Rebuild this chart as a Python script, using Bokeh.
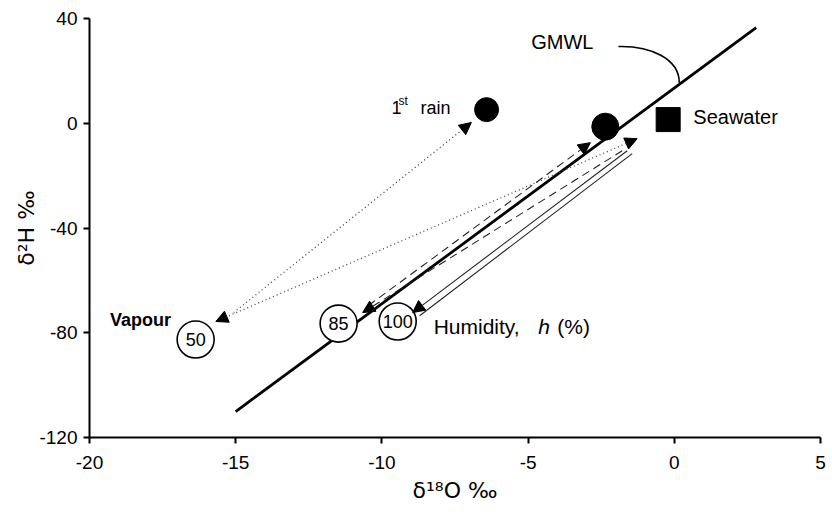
import math
from bokeh.plotting import figure
from bokeh.models import Range1d, FixedTicker, Arrow, NormalHead, Label, ColumnDataSource
from bokeh.embed import file_html
from bokeh.resources import INLINE
from bokeh.core.properties import value

FONT = "Liberation Sans"
TITLE_FONT = "DejaVu Sans"

# ---- axis ticks ----
x_ticks = [-20, -15, -10, -5, 0, 5]
x_tick_labels = ["-20", "-15", "-10", "-5", "0", "5"]
y_ticks = [-120, -80, -40, 0, 40]
y_tick_labels = ["-120", "-80", "-40", "0", "40"]
x_title = "δ¹⁸O ‰"
y_title = "δ²H ‰"

# ---- Global Meteoric Water Line ----
gmwl_x = [-15.0, 2.8]
gmwl_y = [-110.1, 36.5]

# ---- filled points ----
rain_x, rain_y = [-6.42], [5.2]          # 1st rain
resid_x, resid_y = [-2.36], [-1.3]       # residual water on GMWL
sea_x, sea_y = [-0.21], [1.4]            # seawater

# ---- humidity circles (vapour) ----
hum_labels = ["50", "85", "100"]
hum_x = [-16.37, -11.48, -9.46]
hum_y = [-82.6, -76.5, -75.7]

# ---- arrows ----
dotted_x0 = [-15.07, -1.27]
dotted_y0 = [-72.3, -5.9]
dotted_x1 = [-6.94, -15.68]
dotted_y1 = [0.3, -75.7]
dotted_start_head = [False, True]

dashed_x0 = [-10.46, -1.78]
dashed_y0 = [-69.6, -10.5]
dashed_x1 = [-2.87, -10.66]
dashed_y1 = [-7.4, -72.3]

solid_x0 = [-1.61, -1.44]
solid_y0 = [-10.5, -11.6]
solid_x1 = [-8.95, -8.71]
solid_y1 = [-72.3, -73.5]
solid_head = [True, False]

# GMWL leader curve
lead_x0, lead_y0 = [-1.91], [29.3]
lead_x1, lead_y1 = [0.17], [15.5]
lead_cx0, lead_cy0 = [-0.82], [29.6]
lead_cx1, lead_cy1 = [0.17], [24.7]

p = figure(width=828, height=515, output_backend="svg", toolbar_location=None,
           x_range=Range1d(-20, 5), y_range=Range1d(-120, 40),
           min_border_left=89, min_border_right=8, min_border_top=18, min_border_bottom=78)
p.outline_line_color = None
p.grid.visible = False
p.background_fill_color = "white"
p.border_fill_color = "white"

for ax, ticks, labels in ((p.xaxis[0], x_ticks, x_tick_labels), (p.yaxis[0], y_ticks, y_tick_labels)):
    ax.ticker = FixedTicker(ticks=ticks)
    ax.major_label_overrides = {t: l for t, l in zip(ticks, labels)}
    ax.axis_line_width = 2
    ax.axis_line_color = "black"
    ax.major_tick_line_width = 2
    ax.major_tick_line_color = "black"
    ax.major_tick_out = 6
    ax.major_tick_in = 0
    ax.minor_tick_line_color = None
    ax.major_label_text_font = FONT
    ax.major_label_text_font_size = "19px"
    ax.major_label_text_color = "black"
    ax.axis_label_text_font = TITLE_FONT
    ax.axis_label_text_font_size = "22px"
    ax.axis_label_text_font_style = "normal"
    ax.axis_label_text_color = "black"
p.xaxis.major_label_standoff = 12
p.yaxis.major_label_standoff = 6
p.xaxis.axis_label = x_title
p.yaxis.axis_label = y_title
p.xaxis.axis_label_standoff = 6
p.yaxis.axis_label_standoff = -3

# GMWL line
p.line(gmwl_x, gmwl_y, line_color="black", line_width=2.8)
p.bezier(x0=lead_x0, y0=lead_y0, x1=lead_x1, y1=lead_y1,
         cx0=lead_cx0, cy0=lead_cy0, cx1=lead_cx1, cy1=lead_cy1,
         line_color="black", line_width=1.6)

def head():
    return NormalHead(size=12, fill_color="black", line_color="black", line_width=1)

for x0, y0, x1, y1, sh in zip(dotted_x0, dotted_y0, dotted_x1, dotted_y1, dotted_start_head):
    p.add_layout(Arrow(x_start=x0, y_start=y0, x_end=x1, y_end=y1,
                       line_color="#444444", line_width=1.3, line_dash="1 3",
                       end=head(), start=head() if sh else None))
for x0, y0, x1, y1 in zip(dashed_x0, dashed_y0, dashed_x1, dashed_y1):
    p.add_layout(Arrow(x_start=x0, y_start=y0, x_end=x1, y_end=y1,
                       line_color="#222222", line_width=1.1, line_dash="8 5",
                       end=head()))
for x0, y0, x1, y1, h in zip(solid_x0, solid_y0, solid_x1, solid_y1, solid_head):
    p.add_layout(Arrow(x_start=x0, y_start=y0, x_end=x1, y_end=y1,
                       line_color="#222222", line_width=1.1,
                       end=head() if h else None))

# points
p.scatter(rain_x, rain_y, marker="circle", size=24, fill_color="black", line_color="black")
p.scatter(resid_x, resid_y, marker="circle", size=27, fill_color="black", line_color="black")
p.scatter(sea_x, sea_y, marker="square", size=24, fill_color="black", line_color="black")

hsrc = ColumnDataSource(dict(x=hum_x, y=hum_y, t=hum_labels))
p.scatter("x", "y", source=hsrc, marker="circle", size=37, fill_color="white",
          line_color="black", line_width=1.6)
p.text("x", "y", text="t", source=hsrc, text_align="center", text_baseline="middle",
       text_font=value(FONT), text_font_size="18px", text_color="black")

def lab(x, y, t, size, style="normal", align="left"):
    p.add_layout(Label(x=x, y=y, text=t, text_font=FONT, text_font_size=size,
                       text_font_style=style, text_align=align, text_baseline="middle",
                       text_color="black"))

# annotations
lab(-3.83, 31.2, "GMWL", "20px", align="center")
lab(0.65, 2.2, "Seawater", "20px")
lab(-9.67, 6.0, "1", "18px")
lab(-9.43, 8.6, "st", "12px")
lab(-8.68, 6.0, "rain", "18px")
lab(-19.30, -75.0, "Vapour", "18px", style="bold")
lab(-8.23, -77.6, "Humidity,", "21px")
lab(-4.65, -77.6, "h", "21px", style="italic")
lab(-4.0, -77.6, "(%)", "21px")

open("out.html", "w").write(file_html(p, INLINE))
